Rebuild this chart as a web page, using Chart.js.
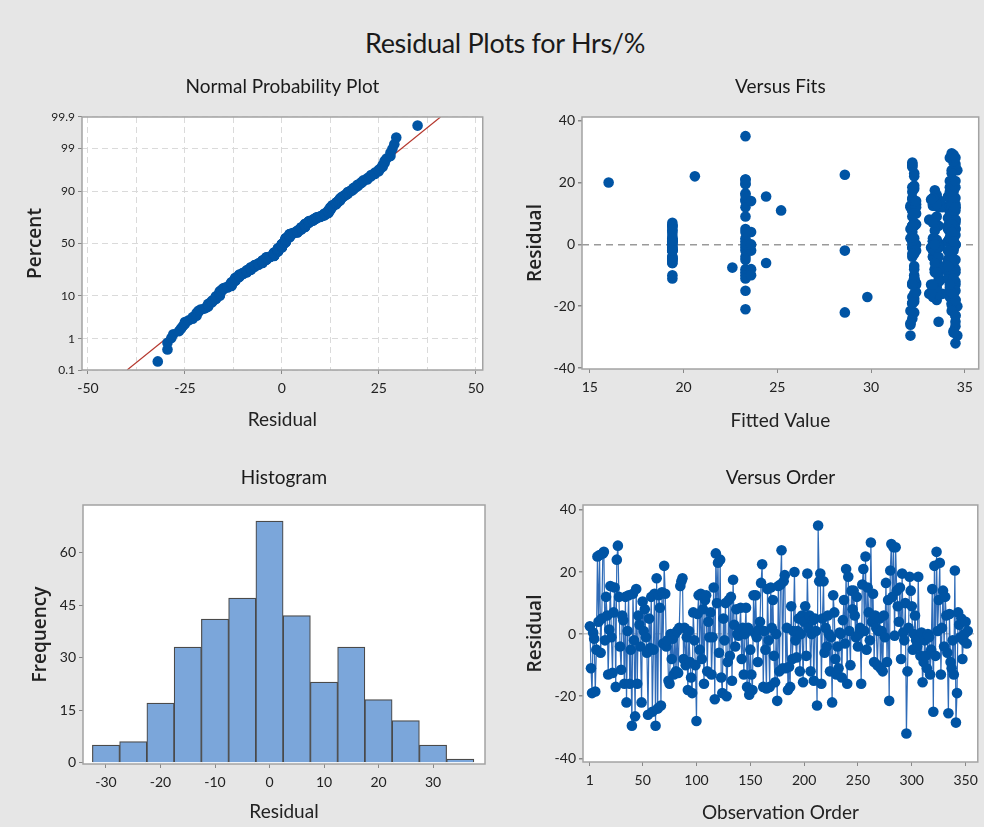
<!DOCTYPE html>
<html>
<head>
<meta charset="utf-8">
<script src="https://cdn.jsdelivr.net/npm/chart.js@4.4.0/dist/chart.umd.min.js"></script>
<style>
  body { margin: 0; background: #e6e6e6; width: 984px; height: 827px; overflow: hidden; position: relative; }
  #title { position: absolute; left: 0; width: 1010px; top: 26px; text-align: center; font-size: 27px; color: #1a1a1a;
           font-family: Lato, sans-serif; letter-spacing: -0.3px; }
  canvas { position: absolute; }
</style>
</head>
<body>
<div id="title">Residual Plots for Hrs/%</div>
<canvas id="prob" width="490" height="380" style="left:0;top:60px"></canvas>
<canvas id="fits" width="494" height="380" style="left:490px;top:60px"></canvas>
<canvas id="hist" width="490" height="377" style="left:0;top:450px"></canvas>
<canvas id="order" width="494" height="377" style="left:490px;top:450px"></canvas>
<script>
// residuals in observation order
var residuals = [
  2.5, -11, -19, 0.5, -1.5, -18.5, -5, 25, 4, 25.5,
  -6, 5, 26, 26.5, -2, 12, 6, -13, 1.5, 15.5,
  -1, -12.5, 7, 15, -17, 24, 28.5, 12, -4, -11.5,
  6, 4.5, -16, 12, -22, 1, 12.5, -16, -5, -29.5,
  13, -2, -26.5, 14.5, -16, 6, 3, -4, -22, 10.5,
  1, 8, -1, -6, -26, 5, -4.5, 12, -25, -5,
  13, -29.5, 18, -24, 12.5, 8.5, -23, 13.5, -3, 22,
  13, -4, -2, -15, -16, 0, -8, -1.5, -13, 0,
  -12, 1, -12.5, 2, 15.5, 17, 18, -8, 2, -10,
  -1, -18, 1, -9, -14, -19, 7, -2, -10, -28,
  6.5, 12.5, -5, 13, -8, 8, -16, 11, 12.5, -12,
  4, -1, 7, -13, -1, 15, -21, 26, 10, 23,
  -6, 24, -14, -19, 5, -2, 10, -20, -9, 11,
  -7, 12, -15, 17.5, 3, -4, 8, 0, -0.5, 1,
  8.5, -8, 2, -13, 0, 8.5, -17, 2, -19.5, -5,
  -13, -18, 12.5, 0.5, 12.5, -1, -9, 1.5, 4, 16.5,
  22.5, -17, 1, -5, -17.5, 14.5, -2, -17, 15, 2,
  11, -7, -15.5, 0, -21.5, 15.5, -12, 16, 27, -11,
  17, 19, -11, 2, -18, -10.5, -17, 9, -8, 1,
  20, -2, -7.5, 1, 5, -12, 0, 6, -15.5, 4,
  9, -7, 19.5, 2, 6, -12, 0, 4.5, -15, 5,
  1, -23, 35, 17, 19.5, -16, 5, 17, -6, 2,
  -4, 6, 0, -12, -1, -22, 12.5, 7, -8, -13,
  -4, -11, 0.5, 0, -14, 4.5, 11, -3, 21, -16,
  18.5, 1, -10, 14, 8, 14, 6, -1, 12, -4,
  0, 2, -16, 16, 21, 1, 25, -5, 15, 7,
  -2, 29.5, 4, 13, -9, 6, 2, -10, 1, 5,
  -11, 1, -12, 6, -1, 16.5, -9, 11, -21.5, 20.5,
  29, 12, 28, -0.5, 28, 14, 9, 4, 15, -8,
  19.5, 0.5, -2, 10, -32, -12, 2, 18.5, 14, 9,
  -5, 0, 6, -2, -4, 18.5, -1, -7, 0.5, -15.5,
  -9, -2, -7, -11, 0, -1, -13, -5, 14.5, -25,
  22, -7, 26.5, 1, 11, 23, -13, 2, 14, -4,
  12, 6, -6, -25.5, 6.5, -9, -11, -2, -13, 20.5,
  -28.5, -19, 7, 3, -1, 5, -8, -2, 0, 4,
  -3, 1
];

// fitted value for each observation
var fitted = [
  32.2, 19.4, 34.3, 19.4, 33.4, 32.3, 19.4, 34.5, 19.4, 32.2,
  19.4, 23.3, 32.2, 34.4, 19.4, 33.6, 19.4, 33.2, 19.4, 34.1,
  23.3, 32.4, 19.4, 33.3, 34.2, 34.6, 34.3, 32.1, 23.3, 33.7,
  19.4, 19.4, 33.8, 34.5, 32.3, 19.4, 32.1, 34.4, 19.4, 32.1,
  33.5, 19.4, 34.5, 32.2, 33.1, 19.4, 19.4, 19.4, 28.6, 34.2,
  19.4, 33.3, 19.4, 19.4, 32.1, 19.4, 19.4, 34.3, 33.6, 19.4,
  32.4, 34.6, 34.4, 32.2, 33.4, 34.1, 34.5, 33.7, 34.2, 20.6,
  34.5, 19.4, 19.4, 23.3, 32.3, 19.4, 23.3, 19.4, 33.5, 19.4,
  34.4, 19.4, 32.2, 19.4, 33.4, 34.3, 32.3, 33.9, 19.4, 19.4,
  19.4, 33.5, 19.4, 23.3, 34.2, 32.2, 34.5, 19.4, 23.3, 34.4,
  32.4, 34.1, 23.3, 33.3, 23.6, 34.5, 34.3, 32.2, 33.6, 32.3,
  34.2, 33.2, 32.3, 34.4, 33.6, 32.2, 23.3, 34.5, 34.3, 32.3,
  34.1, 34.3, 33.3, 32.2, 34.5, 23.3, 32.4, 34.6, 33.5, 34.4,
  32.3, 33.8, 34.2, 33.4, 34.4, 32.2, 33.1, 34.5, 32.3, 34.2,
  34.3, 33.4, 32.1, 34.5, 33.7, 34.4, 33.3, 32.2, 34.3, 33.5,
  32.2, 34.5, 33.3, 34.4, 34.2, 32.3, 34.1, 33.5, 23.6, 23.3,
  28.6, 29.8, 23.3, 34.3, 32.3, 23.3, 23.6, 33.4, 34.5, 34.2,
  32.2, 34.4, 33.2, 32.4, 34.3, 24.4, 34.5, 33.5, 34.4, 32.3,
  34.2, 32.3, 23.3, 23.3, 34.5, 33.6, 32.2, 34.3, 33.4, 34.1,
  16.0, 34.4, 22.6, 33.3, 34.2, 32.3, 34.5, 33.6, 34.3, 32.2,
  23.3, 33.5, 23.3, 34.4, 32.3, 34.2, 23.3, 33.4, 34.5, 32.1,
  34.3, 34.5, 23.3, 32.2, 23.3, 33.5, 34.1, 34.4, 24.4, 33.3,
  34.2, 32.3, 23.6, 33.6, 34.4, 32.2, 34.3, 33.4, 34.5, 32.4,
  33.3, 34.1, 32.2, 34.5, 33.5, 34.3, 25.2, 32.3, 23.3, 34.4,
  34.2, 33.4, 32.3, 33.7, 34.5, 23.3, 32.2, 34.4, 23.3, 33.3,
  34.3, 32.3, 33.2, 23.3, 23.3, 34.1, 32.2, 34.5, 33.4, 34.3,
  32.4, 34.3, 23.3, 33.5, 34.4, 32.2, 34.2, 23.6, 33.3, 34.5,
  32.3, 34.4, 33.6, 34.1, 32.2, 34.3, 33.4, 34.5, 32.1, 34.2,
  34.4, 32.4, 34.2, 33.5, 34.5, 23.6, 32.2, 34.3, 33.3, 34.1,
  34.3, 33.4, 28.6, 32.3, 34.5, 33.6, 34.2, 32.2, 34.4, 33.5,
  34.1, 32.3, 34.4, 33.3, 34.2, 34.5, 32.2, 33.7, 34.3, 32.4,
  34.5, 33.4, 34.2, 32.3, 33.6, 34.4, 32.2, 34.3, 33.2, 34.5,
  32.3, 34.1, 32.2, 33.5, 34.4, 34.3, 33.3, 34.2, 32.4, 33.6,
  34.5, 32.2, 33.4, 32.1, 34.3, 33.5, 34.4, 32.3, 34.2, 34.5,
  34.4, 32.2, 33.3, 34.5, 33.6, 34.2, 32.3, 34.1, 33.4, 34.3,
  32.2, 34.4
];

// histogram (bin centres, counts)
var binCenters = [-30, -25, -20, -15, -10, -5, 0, 5, 10, 15, 20, 25, 30, 35];
var binCounts = [5, 6, 17, 33, 41, 47, 69, 42, 23, 33, 18, 12, 5, 1];

// tick labels
var probPercentTicks = [0.1, 1, 10, 50, 90, 99, 99.9];
var probResidTicks = [-50, -25, 0, 25, 50];
var probResidGrid = [-50, -37.5, -25, -12.5, 0, 12.5, 25, 37.5, 50];
var fitsTicks = [15, 20, 25, 30, 35];
var residTicks = [-40, -20, 0, 20, 40];
var histXTicks = [-30, -20, -10, 0, 10, 20, 30];
var histYTicks = [0, 15, 30, 45, 60];
var orderTicks = [1, 50, 100, 150, 200, 250, 300, 350];

var NARROW = 'Lato, sans-serif';
var WIDE = '"Open Sans", sans-serif';
var BLUE = '#0054a4';
var DOT = 5.3;

// inverse normal cdf (Acklam)
function qnorm(p) {
  var a = [-39.69683028665376, 220.9460984245205, -275.9285104469687, 138.3577518672690, -30.66479806614716, 2.506628277459239];
  var b = [-54.47609879822406, 161.5858368580409, -155.6989798598866, 66.80131188771972, -13.28068155288572];
  var c = [-0.007784894002430293, -0.3223964580411365, -2.400758277161838, -2.549671324857719, 4.374664141464968, 2.938163982698783];
  var d = [0.007784695709041462, 0.3224671290700398, 2.445134137142996, 3.754408661907416];
  var q, r;
  if (p < 0.02425) {
    q = Math.sqrt(-2 * Math.log(p));
    return (((((c[0]*q+c[1])*q+c[2])*q+c[3])*q+c[4])*q+c[5]) / ((((d[0]*q+d[1])*q+d[2])*q+d[3])*q+1);
  }
  if (p > 1 - 0.02425) {
    q = Math.sqrt(-2 * Math.log(1 - p));
    return -(((((c[0]*q+c[1])*q+c[2])*q+c[3])*q+c[4])*q+c[5]) / ((((d[0]*q+d[1])*q+d[2])*q+d[3])*q+1);
  }
  q = p - 0.5; r = q * q;
  return (((((a[0]*r+a[1])*r+a[2])*r+a[3])*r+a[4])*r+a[5])*q / (((((b[0]*r+b[1])*r+b[2])*r+b[3])*r+b[4])*r+1);
}

var n = residuals.length;
var sorted = residuals.slice().sort(function (a, b) { return a - b; });
var probPoints = sorted.map(function (r, i) { return { x: r, y: qnorm((i + 1 - 0.3) / (n + 0.4)) }; });
var mean = residuals.reduce(function (s, v) { return s + v; }, 0) / n;
var sd = Math.sqrt(residuals.reduce(function (s, v) { return s + (v - mean) * (v - mean); }, 0) / (n - 1));
var zLo = qnorm(0.001), zHi = qnorm(0.999);

// white plot area + grey frame
var frame = {
  id: 'frame',
  beforeDraw: function (c) {
    var a = c.chartArea, ctx = c.ctx;
    ctx.save(); ctx.fillStyle = '#fff'; ctx.fillRect(a.left, a.top, a.width, a.height); ctx.restore();
  },
  afterDraw: function (c) {
    var a = c.chartArea, ctx = c.ctx;
    ctx.save(); ctx.strokeStyle = '#a3a3a3'; ctx.lineWidth = 1.5;
    ctx.strokeRect(a.left, a.top, a.width, a.height); ctx.restore();
  }
};

function setTicks(vals) {
  return function (s) { s.ticks = vals.map(function (v) { return { value: v }; }); };
}

function xAxis(min, max, vals, title, h, padBottom) {
  return {
    type: 'linear', min: min, max: max, offset: false,
    afterBuildTicks: setTicks(vals),
    afterFit: function (s) { s.height = h; },
    ticks: { autoSkip: false, maxRotation: 0, padding: 6, color: '#222', font: { family: NARROW, size: 14 } },
    grid: { drawOnChartArea: false, tickLength: 4, tickColor: '#888', offset: false },
    border: { display: false },
    title: { display: true, text: title, color: '#222', font: { family: NARROW, size: 19 }, padding: { top: 0, bottom: padBottom } }
  };
}

function yAxis(min, max, vals, title, w, padTop) {
  return {
    type: 'linear', min: min, max: max,
    afterBuildTicks: setTicks(vals),
    afterFit: function (s) { s.width = w; },
    ticks: { autoSkip: false, padding: 3, color: '#222', font: { family: NARROW, size: 14 } },
    grid: { drawOnChartArea: false, tickLength: 4, tickColor: '#888' },
    border: { display: false },
    title: { display: true, text: title, color: '#222', font: { family: WIDE, size: 19, weight: '600' }, padding: { top: padTop, bottom: 0 } }
  };
}

function panelTitle(text, top, bottom) {
  return { display: true, text: text, fullSize: false, color: '#1a1a1a',
           font: { family: NARROW, size: 19, weight: 'normal' }, padding: { top: top, bottom: bottom } };
}

var common = { responsive: false, animation: false, events: [] };

// Normal probability plot
var px = xAxis(-51.54, 51.8, probResidGrid, 'Residual', 70, 8.6);
px.ticks.callback = function (v) { return probResidTicks.indexOf(v) >= 0 ? String(v) : ''; };
px.grid = { drawOnChartArea: true, color: '#dadada', tickLength: 4, offset: false,
            tickColor: function (c) { return c.tick && probResidTicks.indexOf(c.tick.value) >= 0 ? '#888' : 'rgba(0,0,0,0)'; } };
px.border = { display: false, dash: [6, 4] };
var py = yAxis(zLo, zHi, probPercentTicks.map(function (p) { return qnorm(p / 100); }), 'Percent', 82, 24);
py.ticks.font = { family: NARROW, size: 12 };
py.ticks.callback = function (v, i) { return String(probPercentTicks[i]); };
py.grid = { drawOnChartArea: true, color: '#dadada', tickLength: 4, tickColor: '#888' };
py.border = { display: false, dash: [6, 4] };

new Chart(document.getElementById('prob'), {
  type: 'scatter',
  data: { datasets: [
    { data: probPoints, pointRadius: DOT, pointBackgroundColor: BLUE, pointBorderWidth: 0 },
    { type: 'line', data: [{ x: mean + sd * zLo, y: zLo }, { x: mean + sd * zHi, y: zHi }],
      borderColor: '#b5382e', borderWidth: 1.2, pointRadius: 0 }
  ] },
  options: Object.assign({}, common, {
    layout: { padding: { left: 0, right: 6, top: 0, bottom: 0 } },
    scales: { x: px, y: py },
    plugins: { legend: { display: false }, tooltip: { enabled: false }, title: panelTitle('Normal Probability Plot', 15.6, 18.6) }
  }),
  plugins: [frame]
});

// Versus fits
var fy = yAxis(-40.3, 41.2, residTicks, 'Residual', 92, 34);
fy.grid = { drawOnChartArea: true, tickLength: 4, tickColor: '#888', lineWidth: 1.5,
            color: function (c) { return c.tick && c.tick.value === 0 ? '#9a9a9a' : 'rgba(0,0,0,0)'; } };
fy.border = { display: false, dash: [7, 5] };

new Chart(document.getElementById('fits'), {
  type: 'scatter',
  data: { datasets: [
    { data: fitted.map(function (f, i) { return { x: f, y: residuals[i] }; }),
      pointRadius: DOT, pointBackgroundColor: BLUE, pointBorderWidth: 0 }
  ] },
  options: Object.assign({}, common, {
    layout: { padding: { left: 0, right: 1, top: 0, bottom: 0 } },
    scales: { x: xAxis(14.58, 35.74, fitsTicks, 'Fitted Value', 71, 7.6), y: fy },
    plugins: { legend: { display: false }, tooltip: { enabled: false }, title: panelTitle('Versus Fits', 15.6, 18.6) }
  }),
  plugins: [frame]
});

// Histogram
new Chart(document.getElementById('hist'), {
  type: 'bar',
  data: { datasets: [
    { data: binCenters.map(function (x, i) { return { x: x, y: binCounts[i] }; }),
      backgroundColor: '#7ba6da', borderColor: '#4a4a4a', borderWidth: 1.2,
      barPercentage: 1, categoryPercentage: 1 }
  ] },
  options: Object.assign({}, common, {
    layout: { padding: { left: 0, right: 5, top: 0, bottom: 0 } },
    scales: { x: xAxis(-34.22, 39.54, histXTicks, 'Residual', 63, 3.6),
              y: yAxis(-0.37, 73.6, histYTicks, 'Frequency', 83, 29) },
    plugins: { legend: { display: false }, tooltip: { enabled: false }, title: panelTitle('Histogram', 16.6, 15.6) }
  }),
  plugins: [frame]
});

// Versus order
var oy = yAxis(-41.2, 41.6, residTicks, 'Residual', 93, 34);
oy.grid = { drawOnChartArea: true, tickLength: 4, tickColor: '#888', lineWidth: 1.5,
            color: function (c) { return c.tick && c.tick.value === 0 ? '#c4c4c4' : 'rgba(0,0,0,0)'; } };
oy.border = { display: false, dash: [7, 5] };

new Chart(document.getElementById('order'), {
  type: 'line',
  data: { datasets: [
    { data: residuals.map(function (r, i) { return { x: i + 1, y: r }; }),
      borderColor: '#2f6cb8', borderWidth: 1.2, pointRadius: DOT,
      pointBackgroundColor: BLUE, pointBorderWidth: 0 }
  ] },
  options: Object.assign({}, common, {
    layout: { padding: { left: 0, right: 0, top: 0, bottom: 0 } },
    scales: { x: xAxis(-5.4, 361.3, orderTicks, 'Observation Order', 65, 2.6), y: oy },
    plugins: { legend: { display: false }, tooltip: { enabled: false }, title: panelTitle('Versus Order', 16.6, 15.6) }
  }),
  plugins: [frame]
});
</script>
</body>
</html>
